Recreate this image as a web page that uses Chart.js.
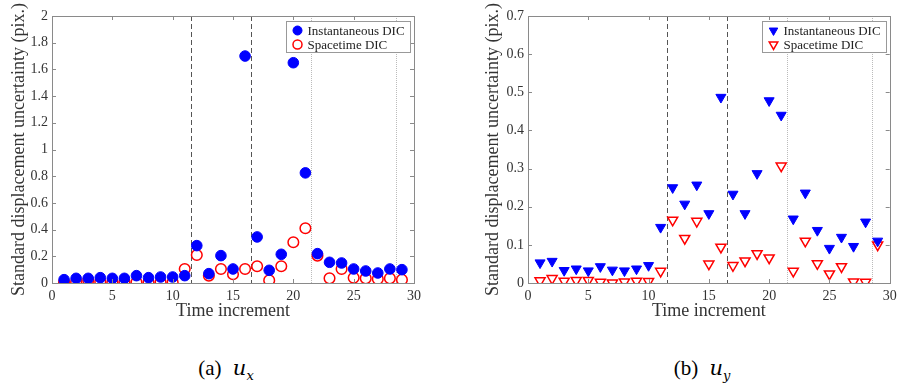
<!DOCTYPE html>
<html>
<head>
<meta charset="utf-8">
<script src="https://cdn.jsdelivr.net/npm/chart.js@4.4.0/dist/chart.umd.min.js"></script>
<style>
  body { margin: 0; background: #fff; width: 897px; height: 391px; position: relative; overflow: hidden; font-family: "Liberation Serif", serif; }
  .panel { position: absolute; top: 0; height: 330px; }
  .cap { position: absolute; top: 356px; width: 200px; text-align: center; font-size: 21px; color: #000; }
  .cap i { font-family: "DejaVu Serif", serif; font-size: 21px; margin-left: 6px; }
  .cap sub { font-size: 13px; }
</style>
</head>
<body>
<div class="panel" style="left:0;width:450px"><canvas id="uxChart"></canvas></div>
<div class="panel" style="left:450px;width:447px"><canvas id="uyChart"></canvas></div>
<div class="cap" style="left:126px">(a)&nbsp;<i>u<sub>x</sub></i></div>
<div class="cap" style="left:602px">(b)&nbsp;<i>u<sub>y</sub></i></div>

<script>
// time increments
var steps = [1, 2, 3, 4, 5, 6, 7, 8, 9, 10, 11, 12, 13, 14, 15, 16, 17, 18, 19, 20, 21, 22, 23, 24, 25, 26, 27, 28, 29];

// u_x uncertainty (pix.)
var instUx  = [0.025, 0.035, 0.035, 0.04, 0.035, 0.035, 0.055, 0.04, 0.045, 0.045, 0.055, 0.28, 0.07, 0.205, 0.105,
               1.70, 0.345, 0.095, 0.215, 1.65, 0.825, 0.22, 0.155, 0.15, 0.105, 0.09, 0.075, 0.105, 0.10];
var spaceUx = [0.005, 0.01, 0.02, 0.01, 0.005, 0.01, 0.005, 0.005, 0.005, 0.005, 0.105, 0.21, 0.055, 0.105, 0.065,
               0.105, 0.125, 0.02, 0.125, 0.305, 0.41, 0.205, 0.035, 0.105, 0.04, 0.035, 0.03, 0.035, 0.025];

// u_y uncertainty (pix.)
var instUy  = [0.053, 0.057, 0.033, 0.037, 0.032, 0.043, 0.034, 0.032, 0.037, 0.046, 0.146, 0.25, 0.207, 0.257, 0.182,
               0.487, 0.233, 0.182, 0.287, 0.478, 0.44, 0.168, 0.236, 0.138, 0.091, 0.12, 0.096, 0.16, 0.11];
var spaceUy = [0.006, 0.012, 0.005, 0.007, 0.007, 0.002, 0.0, 0.003, 0.005, 0.004, 0.031, 0.165, 0.117, 0.162, 0.05,
               0.094, 0.046, 0.058, 0.077, 0.066, 0.307, 0.031, 0.11, 0.051, 0.024, 0.043, 0.003, 0.002, 0.1];

var seriesNames = ['Instantaneous DIC', 'Spacetime DIC'];
var dashedAt = [11.5, 16.5];   // dashed separators
var dottedAt = [21.5, 28.5];   // dotted separators

var serif = '"Liberation Serif", "Times New Roman", serif';

function pts(vals) {
    return vals.map(function (v, i) { return { x: steps[i], y: v }; });
}

// MATLAB style frame, inward ticks, separator lines and boxed legend
var matlabAxes = {
    id: 'matlabAxes',
    beforeDatasetsDraw: function (chart) {
        var ctx = chart.ctx, a = chart.chartArea, xs = chart.scales.x;
        ctx.save();
        ctx.lineWidth = 1;
        ctx.strokeStyle = '#555';
        ctx.setLineDash([5, 3]);
        dashedAt.forEach(function (v) {
            var px = Math.round(xs.getPixelForValue(v)) + 0.5;
            ctx.beginPath(); ctx.moveTo(px, a.top); ctx.lineTo(px, a.bottom); ctx.stroke();
        });
        ctx.strokeStyle = '#bbb';
        ctx.setLineDash([1, 1]);
        dottedAt.forEach(function (v) {
            var px = Math.round(xs.getPixelForValue(v)) + 0.5;
            ctx.beginPath(); ctx.moveTo(px, a.top); ctx.lineTo(px, a.bottom); ctx.stroke();
        });
        ctx.restore();
    },
    afterDraw: function (chart) {
        var ctx = chart.ctx, a = chart.chartArea, xs = chart.scales.x, ys = chart.scales.y;
        var t = 4;
        ctx.save();
        ctx.strokeStyle = '#8a8a8a';
        ctx.lineWidth = 1;
        ctx.beginPath();
        xs.ticks.forEach(function (tk) {
            var px = Math.round(xs.getPixelForValue(tk.value)) + 0.5;
            ctx.moveTo(px, a.bottom); ctx.lineTo(px, a.bottom - t);
            ctx.moveTo(px, a.top); ctx.lineTo(px, a.top + t);
        });
        ys.ticks.forEach(function (tk) {
            var py = Math.round(ys.getPixelForValue(tk.value)) + 0.5;
            ctx.moveTo(a.left, py); ctx.lineTo(a.left + t, py);
            ctx.moveTo(a.right, py); ctx.lineTo(a.right - t, py);
        });
        ctx.stroke();
        ctx.strokeRect(Math.round(a.left) + 0.5, Math.round(a.top) + 0.5,
                       Math.round(a.right - a.left), Math.round(a.bottom - a.top));

        // legend
        ctx.font = '13px ' + serif;
        var w = 0;
        chart.data.datasets.forEach(function (ds) { w = Math.max(w, ctx.measureText(ds.label).width); });
        var bw = Math.round(w + 27), bh = 31;
        var bx = Math.round(a.right - 4 - bw) + 0.5, by = Math.round(a.top + 5) + 0.5;
        ctx.fillStyle = '#fff';
        ctx.fillRect(bx, by, bw, bh);
        ctx.strokeStyle = '#999';
        ctx.strokeRect(bx, by, bw, bh);
        chart.data.datasets.forEach(function (ds, i) {
            var cy = by + 9 + i * 14;
            ctx.fillStyle = ds.backgroundColor;
            ctx.strokeStyle = ds.borderColor;
            ctx.lineWidth = ds.borderWidth;
            Chart.helpers.drawPoint(ctx, {
                pointStyle: ds.pointStyle, rotation: ds.pointRotation,
                radius: ds.pointRadius * 0.85, borderWidth: ds.borderWidth
            }, bx + 11, cy);
            ctx.fillStyle = '#222';
            ctx.textBaseline = 'middle';
            ctx.textAlign = 'left';
            ctx.fillText(ds.label, bx + 21, cy + 1);
        });
        ctx.restore();
    }
};

function tickText(v) {
    return String(Number(v.toFixed(2)));
}

function makeChart(id, inst, space, yMax, yStep, marker, rotation, radius, yWidth, yTitlePad, padRight) {
    var ctx = document.getElementById(id).getContext('2d');
    return new Chart(ctx, {
        type: 'scatter',
        data: {
            datasets: [{
                label: seriesNames[0],
                data: pts(inst),
                pointStyle: marker,
                pointRotation: rotation,
                pointRadius: radius,
                backgroundColor: '#0000ff',
                borderColor: '#0000ff',
                borderWidth: 1
            }, {
                label: seriesNames[1],
                data: pts(space),
                pointStyle: marker,
                pointRotation: rotation,
                pointRadius: radius,
                backgroundColor: 'rgba(0,0,0,0)',
                borderColor: '#ff0000',
                borderWidth: 1.5
            }]
        },
        options: {
            responsive: true,
            maintainAspectRatio: false,
            animation: false,
            layout: { padding: { top: 16, right: padRight, left: 0, bottom: 0 } },
            plugins: { legend: { display: false }, tooltip: { enabled: false } },
            scales: {
                x: {
                    type: 'linear', min: 0, max: 30,
                    grid: { display: false, drawTicks: false }, border: { display: false },
                    ticks: { stepSize: 5, padding: 5, color: '#333', font: { family: serif, size: 14 }, maxRotation: 0, callback: tickText },
                    title: { display: true, text: 'Time increment', color: '#333', font: { family: serif, size: 18 }, padding: { top: 0, bottom: 8 } },
                    afterFit: function (s) { s.height = 47; s.paddingLeft = 0; s.paddingRight = 0; }
                },
                y: {
                    type: 'linear', min: 0, max: yMax,
                    grid: { display: false, drawTicks: false }, border: { display: false },
                    ticks: { stepSize: yStep, padding: 4, color: '#333', font: { family: serif, size: 14 }, callback: tickText },
                    title: { display: true, text: 'Standard displacement uncertainty (pix.)', color: '#333', font: { family: serif, size: 18 }, padding: { top: yTitlePad, bottom: 0 } },
                    afterFit: function (s) { s.width = yWidth; s.paddingTop = 0; s.paddingBottom = 0; }
                }
            }
        },
        plugins: [matlabAxes]
    });
}

makeChart('uxChart', instUx, spaceUx, 2, 0.2, 'circle', 0, 5.3, 52, 8, 36);
makeChart('uyChart', instUy, spaceUy, 0.7, 0.1, 'triangle', 180, 5.8, 78, 32, 5);
</script>
</body>
</html>
